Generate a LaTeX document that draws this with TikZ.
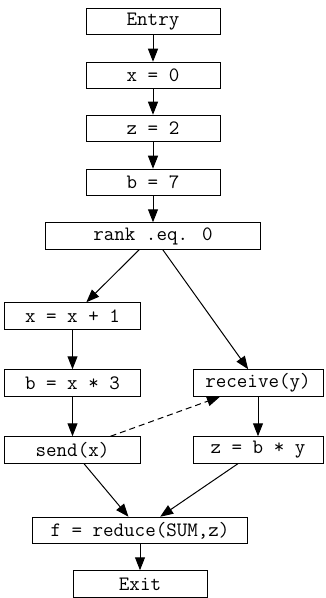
\documentclass[tikz,border=0pt]{standalone}
\usepackage{tikz}
\usetikzlibrary{arrows.meta}

\begin{document}
\begin{tikzpicture}[
    x=1bp, y=-1bp,
    block/.style={rectangle, draw, line width=1bp, inner sep=0pt, minimum width=134bp, minimum height=26.5bp, font=\ttfamily\fontsize{20.5}{22}\selectfont},
    wide/.style={block, minimum width=214bp},
    flow/.style={-{Triangle[length=13bp,width=10bp]}, line width=1bp},
    msg/.style={flow, dash pattern=on 6bp off 4bp}
]
\useasboundingbox (0,0) rectangle (325,598);

% Straight-line prologue
\node[block] (entry) at (153,21.5) {Entry};
\node[block] (x0) at (153,75.5) {x = 0};
\node[block] (z2) at (153,128.5) {z = 2};
\node[block] (b7) at (153,182.5) {b = 7};
\node[wide] (rank) at (153,236) {rank .eq. 0};

% Left branch (rank 0)
\node[block, minimum width=135bp] (incx) at (72.5,316) {x = x + 1};
\node[block, minimum width=135bp] (mulb) at (72.5,383) {b = x * 3};
\node[block, minimum width=135bp] (send) at (72.5,450) {send(x)};

% Right branch (other ranks)
\node[block, minimum width=130bp] (recv) at (258,383) {receive(y)};
\node[block, minimum width=130bp] (mulz) at (258,450) {z = b * y};

% Join
\node[wide] (reduce) at (140,530.5) {f = reduce(SUM,z)};
\node[block] (exit) at (140,584) {Exit};

% Control flow
\draw[flow] (entry) -- (x0);
\draw[flow] (x0) -- (z2);
\draw[flow] (z2) -- (b7);
\draw[flow] (b7) -- (rank);
\draw[flow] (rank) -- (incx);
\draw[flow] (rank) -- (recv);
\draw[flow] (incx) -- (mulb);
\draw[flow] (mulb) -- (send);
\draw[flow] (recv) -- (mulz);
\draw[flow] (send) -- (reduce);
\draw[flow] (mulz) -- (reduce);
\draw[flow] (reduce) -- (exit);

% Message edge
\draw[msg] (send) -- (recv);

\end{tikzpicture}
\end{document}
